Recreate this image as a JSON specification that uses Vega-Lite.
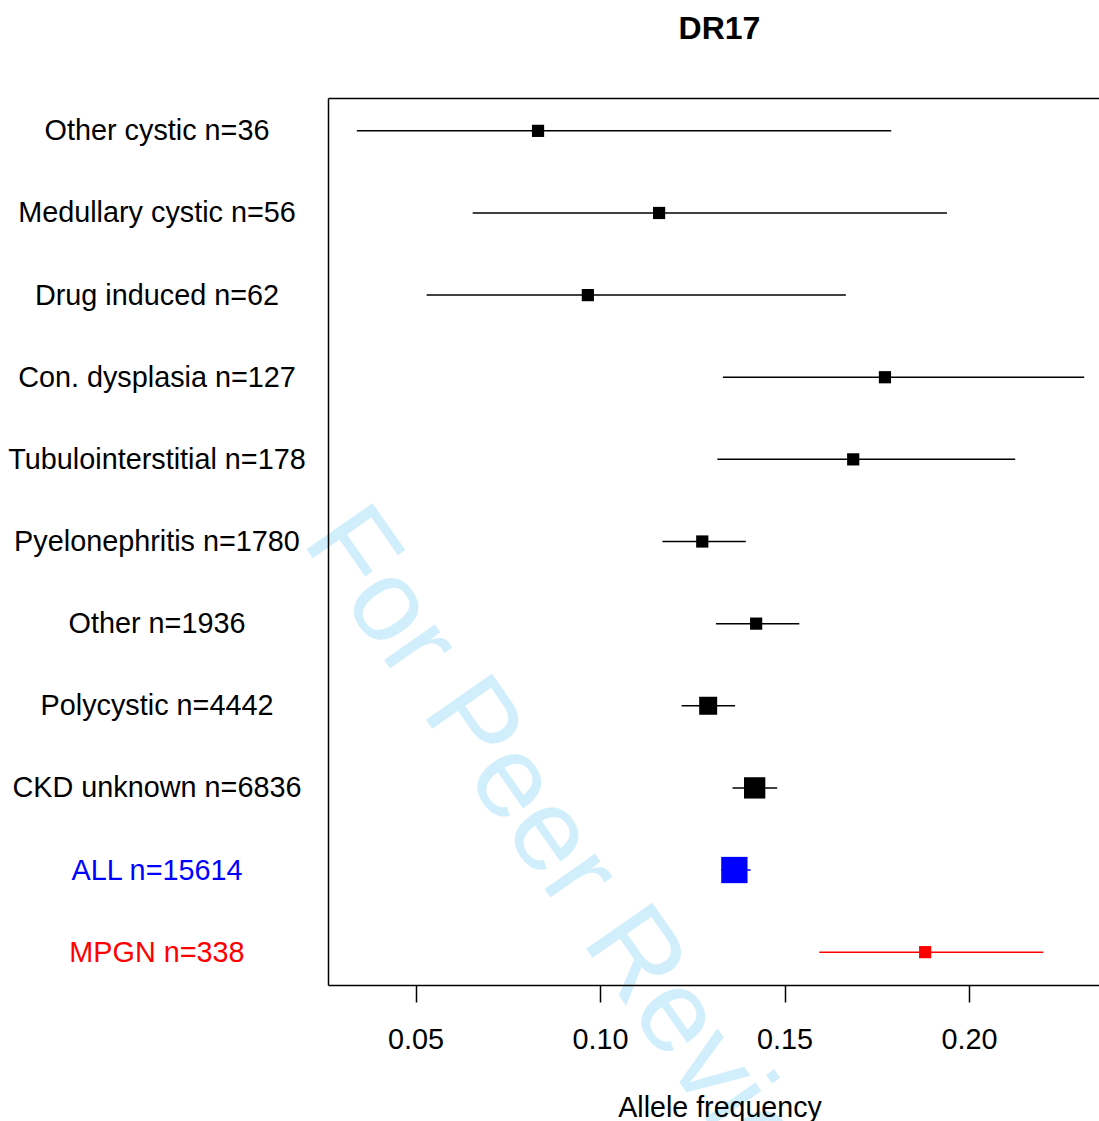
{
  "$schema": "https://vega.github.io/schema/vega-lite/v6.json",
  "width": 771,
  "height": 887,
  "autosize": {"type": "none"},
  "padding": {"left": 328, "top": 98, "right": 0, "bottom": 136},
  "background": "white",
  "config": {"view": {"stroke": null}, "font": "Liberation Sans"},
  "title": {"text": "DR17", "font": "Liberation Sans", "fontSize": 32, "fontWeight": "bold", "color": "black", "anchor": "middle", "dx": 6, "offset": 52},
  "datasets": {
    "estimates": [
      {"label": "Other cystic n=36", "n": 36, "est": 0.0832, "lo": 0.0341, "hi": 0.1789, "group": "subtype"},
      {"label": "Medullary cystic n=56", "n": 56, "est": 0.1160, "lo": 0.0655, "hi": 0.1940, "group": "subtype"},
      {"label": "Drug induced n=62", "n": 62, "est": 0.0967, "lo": 0.0530, "hi": 0.1666, "group": "subtype"},
      {"label": "Con. dysplasia n=127", "n": 127, "est": 0.1772, "lo": 0.1333, "hi": 0.2312, "group": "subtype"},
      {"label": "Tubulointerstitial n=178", "n": 178, "est": 0.1686, "lo": 0.1318, "hi": 0.2125, "group": "subtype"},
      {"label": "Pyelonephritis n=1780", "n": 1780, "est": 0.1277, "lo": 0.1169, "hi": 0.1395, "group": "subtype"},
      {"label": "Other n=1936", "n": 1936, "est": 0.1423, "lo": 0.1314, "hi": 0.1540, "group": "subtype"},
      {"label": "Polycystic n=4442", "n": 4442, "est": 0.1293, "lo": 0.1221, "hi": 0.1366, "group": "subtype"},
      {"label": "CKD unknown n=6836", "n": 6836, "est": 0.1419, "lo": 0.1359, "hi": 0.1480, "group": "subtype"},
      {"label": "ALL n=15614", "n": 15614, "est": 0.1364, "lo": 0.1328, "hi": 0.1408, "group": "all"},
      {"label": "MPGN n=338", "n": 338, "est": 0.1881, "lo": 0.1594, "hi": 0.2201, "group": "mpgn"}
    ],
    "watermark": [
      {"label": "Pyelonephritis n=1780", "freq": 0.019, "text": "For Peer Review"}
    ]
  },
  "layer": [
    {
      "data": {"name": "watermark"},
      "mark": {"type": "text", "angle": 55, "align": "left", "baseline": "alphabetic", "fontSize": 117, "font": "Liberation Sans", "color": "#d0eefb"},
      "encoding": {
        "x": {"field": "freq", "type": "quantitative", "scale": {"domain": [0.02629, 0.2352], "nice": false, "zero": false}, "axis": null},
        "y": {"field": "label", "type": "nominal", "sort": null,
              "scale": {"type": "point", "padding": 0.4, "domain": ["Other cystic n=36", "Medullary cystic n=56", "Drug induced n=62", "Con. dysplasia n=127", "Tubulointerstitial n=178", "Pyelonephritis n=1780", "Other n=1936", "Polycystic n=4442", "CKD unknown n=6836", "ALL n=15614", "MPGN n=338"]},
              "axis": {"orient": "left", "title": null, "ticks": false, "tickSize": 0, "grid": false, "domain": true, "domainColor": "black", "domainWidth": 1.5, "labelAlign": "center", "labelBaseline": "middle", "labelPadding": 171.5, "labelFontSize": 28.8, "labelFont": "Liberation Sans", "labelLimit": 0, "zindex": 1,
                       "labelColor": {"condition": [{"test": "datum.value === 'ALL n=15614'", "value": "#0000ff"}, {"test": "datum.value === 'MPGN n=338'", "value": "#ff0000"}], "value": "black"}}},
        "text": {"field": "text", "type": "nominal"}
      }
    },
    {
      "data": {"name": "estimates"},
      "mark": {"type": "rule", "strokeWidth": 1.5},
      "encoding": {
        "x": {"field": "lo", "type": "quantitative", "scale": {"domain": [0.02629, 0.2352], "nice": false, "zero": false},
              "axis": {"orient": "bottom", "values": [0.05, 0.1, 0.15, 0.2], "format": ".2f", "grid": false, "domain": true, "domainColor": "black", "domainWidth": 1.5, "ticks": true, "tickColor": "black", "tickWidth": 1.5, "tickSize": 17, "labelFontSize": 28.8, "labelFont": "Liberation Sans", "labelColor": "black", "labelPadding": 23, "labelFlush": false, "labelOverlap": false, "title": "Allele frequency", "titleFont": "Liberation Sans", "titleFontSize": 28.6, "titleFontWeight": "normal", "titleColor": "black", "titlePadding": 40, "titleX": 391.5, "zindex": 1}},
        "x2": {"field": "hi"},
        "y": {"field": "label", "type": "nominal", "sort": null,
              "scale": {"type": "point", "padding": 0.4, "domain": ["Other cystic n=36", "Medullary cystic n=56", "Drug induced n=62", "Con. dysplasia n=127", "Tubulointerstitial n=178", "Pyelonephritis n=1780", "Other n=1936", "Polycystic n=4442", "CKD unknown n=6836", "ALL n=15614", "MPGN n=338"]},
              "axis": {"orient": "left", "title": null, "ticks": false, "tickSize": 0, "grid": false, "domain": true, "domainColor": "black", "domainWidth": 1.5, "labelAlign": "center", "labelBaseline": "middle", "labelPadding": 171.5, "labelFontSize": 28.8, "labelFont": "Liberation Sans", "labelLimit": 0, "zindex": 1,
                       "labelColor": {"condition": [{"test": "datum.value === 'ALL n=15614'", "value": "#0000ff"}, {"test": "datum.value === 'MPGN n=338'", "value": "#ff0000"}], "value": "black"}}},
        "color": {"field": "group", "type": "nominal", "scale": {"domain": ["subtype", "all", "mpgn"], "range": ["#000000", "#0000ff", "#ff0000"]}, "legend": null}
      }
    },
    {
      "data": {"name": "estimates"},
      "mark": {"type": "point", "shape": "square", "filled": true, "opacity": 1},
      "encoding": {
        "x": {"field": "est", "type": "quantitative", "scale": {"domain": [0.02629, 0.2352], "nice": false, "zero": false},
              "axis": {"orient": "top", "labels": false, "ticks": false, "grid": false, "domain": true, "domainColor": "black", "domainWidth": 1.5, "title": null, "zindex": 1}},
        "y": {"field": "label", "type": "nominal", "sort": null,
              "scale": {"type": "point", "padding": 0.4, "domain": ["Other cystic n=36", "Medullary cystic n=56", "Drug induced n=62", "Con. dysplasia n=127", "Tubulointerstitial n=178", "Pyelonephritis n=1780", "Other n=1936", "Polycystic n=4442", "CKD unknown n=6836", "ALL n=15614", "MPGN n=338"]},
              "axis": {"orient": "left", "title": null, "ticks": false, "tickSize": 0, "grid": false, "domain": true, "domainColor": "black", "domainWidth": 1.5, "labelAlign": "center", "labelBaseline": "middle", "labelPadding": 171.5, "labelFontSize": 28.8, "labelFont": "Liberation Sans", "labelLimit": 0, "zindex": 1,
                       "labelColor": {"condition": [{"test": "datum.value === 'ALL n=15614'", "value": "#0000ff"}, {"test": "datum.value === 'MPGN n=338'", "value": "#ff0000"}], "value": "black"}}},
        "size": {"field": "n", "type": "quantitative", "scale": {"type": "linear", "domain": [0, 2000, 4442, 6836, 15614], "range": [149, 149, 324, 454, 692]}, "legend": null},
        "color": {"field": "group", "type": "nominal", "scale": {"domain": ["subtype", "all", "mpgn"], "range": ["#000000", "#0000ff", "#ff0000"]}, "legend": null}
      }
    }
  ],
  "resolve": {"axis": {"x": "independent"}}
}
